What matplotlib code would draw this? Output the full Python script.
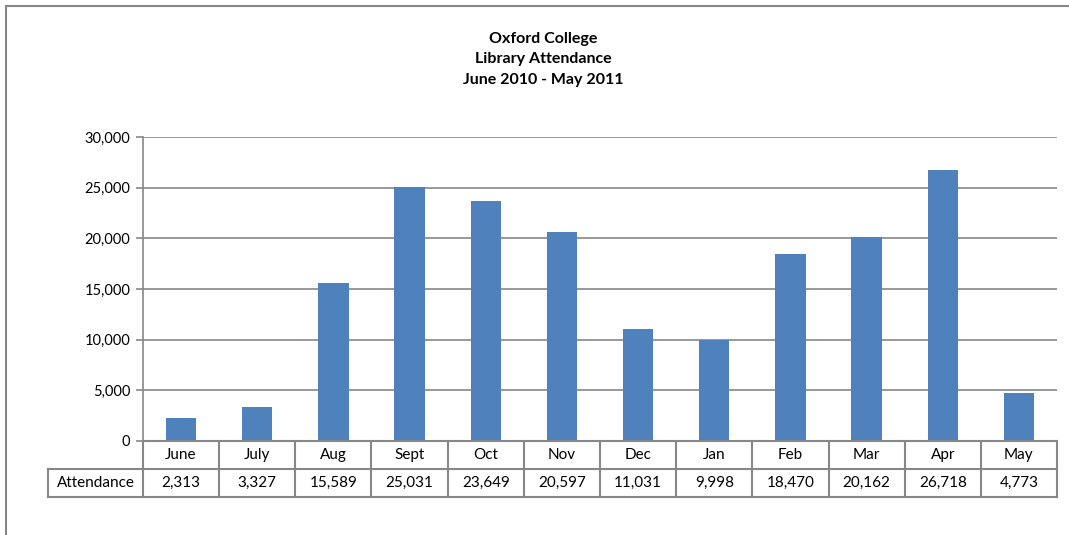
import matplotlib
matplotlib.use("Agg")
import matplotlib.pyplot as plt
from matplotlib.patches import Rectangle

months = ["June", "July", "Aug", "Sept", "Oct", "Nov", "Dec", "Jan", "Feb", "Mar", "Apr", "May"]
attendance = [2313, 3327, 15589, 25031, 23649, 20597, 11031, 9998, 18470, 20162, 26718, 4773]
series_name = "Attendance"
title_lines = ["Oxford College", "Library Attendance", "June 2010 - May 2011"]

W, H = 1069, 535
bar_color = "#4F81BD"
line_color = "#878787"

plt.rcParams["font.family"] = ["Lato", "DejaVu Sans"]

fig = plt.figure(figsize=(W / 100, H / 100), dpi=100, facecolor="white")

# pixel layout of the plot area and data table
px_left, px_right, px_top, px_bottom = 143, 1057, 137, 441
tbl_left, row1_bottom, row2_bottom = 48, 468, 497

ax = fig.add_axes([px_left / W, 1 - px_bottom / H,
                   (px_right - px_left) / W, (px_bottom - px_top) / H])
x = list(range(len(months)))
ax.bar(x, attendance, width=0.4, color=bar_color, zorder=3)
ax.set_xlim(-0.5, len(months) - 0.5)
ax.set_ylim(0, 30000)
ax.set_yticks(range(0, 30001, 5000))
ax.set_yticklabels([f"{v:,}" for v in range(0, 30001, 5000)], fontsize=10.5)
ax.set_xticks([])
ax.yaxis.grid(True, color=line_color, linewidth=1.2, zorder=0)
ax.tick_params(axis="y", length=5, width=1.2, color=line_color, pad=4)
for side in ["top", "right"]:
    ax.spines[side].set_visible(False)
for side in ["left", "bottom"]:
    ax.spines[side].set_color(line_color)
    ax.spines[side].set_linewidth(1.2)

# data table beneath the plot
cat_w = (px_right - px_left) / len(months)
first_w = (px_left - tbl_left) / cat_w
tax = fig.add_axes([tbl_left / W, 1 - row2_bottom / H,
                    (px_right - tbl_left) / W, (row2_bottom - px_bottom) / H])
tax.set_xlim(-0.5 - first_w, len(months) - 0.5)
tax.set_ylim(0, 2)
tax.axis("off")
lw = 1.5
# horizontal lines
tax.plot([-0.5, len(months) - 0.5], [2, 2], color=line_color, lw=lw, clip_on=False)
tax.plot([-0.5 - first_w, len(months) - 0.5], [1, 1], color=line_color, lw=lw, clip_on=False)
tax.plot([-0.5 - first_w, len(months) - 0.5], [0, 0], color=line_color, lw=lw, clip_on=False)
# vertical lines
tax.plot([-0.5 - first_w] * 2, [0, 1], color=line_color, lw=lw, clip_on=False)
for i in range(len(months) + 1):
    tax.plot([i - 0.5] * 2, [0, 2], color=line_color, lw=lw, clip_on=False)
for i, (m, v) in enumerate(zip(months, attendance)):
    tax.text(i, 1.5, m, ha="center", va="center", fontsize=11)
    tax.text(i, 0.5, f"{v:,}", ha="center", va="center", fontsize=11)
tax.text(-0.5 - first_w / 2, 0.5, series_name, ha="center", va="center", fontsize=11)

# title
for j, line in enumerate(title_lines):
    fig.text(543 / W, 1 - (39 + j * 20.5) / H, line, ha="center", va="center",
             fontsize=11.5, fontweight="bold")

# chart area border (cut off at right and bottom)
fig.patches.append(Rectangle((6 / W, -0.05), 1.1, 1 - 6 / H + 0.05,
                             transform=fig.transFigure, fill=False,
                             edgecolor=line_color, linewidth=1.5))

fig.savefig("out.png", dpi=100, facecolor="white")
